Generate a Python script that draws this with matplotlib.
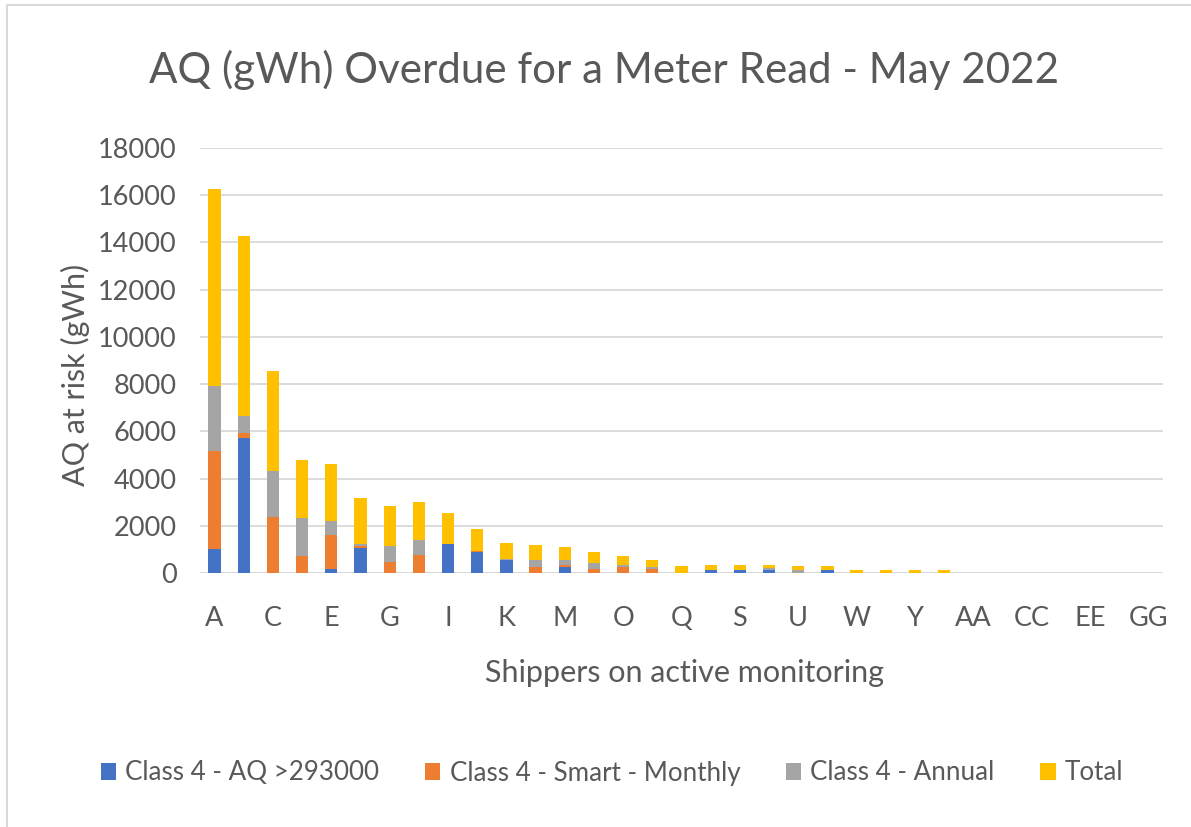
import matplotlib
matplotlib.use("Agg")
import matplotlib.pyplot as plt
from matplotlib.patches import Patch
from matplotlib.lines import Line2D
import numpy as np

plt.rcParams['font.family'] = ['Lato', 'DejaVu Sans']

categories = [chr(c) for c in range(ord('A'), ord('Z') + 1)] + ['AA', 'BB', 'CC', 'DD', 'EE', 'FF', 'GG']

aq_large = [1010, 5720, 0, 0, 170, 1080, 0, 0, 1240, 870, 540, 0, 250, 0, 0, 0, 0,
            140, 140, 130, 0, 140, 0, 0, 0, 0, 0, 0, 0, 0, 0, 0, 0]
smart_monthly = [4150, 210, 2390, 700, 1450, 70, 450, 760, 0, 70, 0, 250, 85, 180, 250, 180, 0,
                 0, 0, 0, 0, 0, 0, 0, 0, 0, 0, 0, 0, 0, 0, 0, 0]
annual = [2780, 700, 1930, 1620, 600, 85, 700, 630, 0, 0, 70, 310, 225, 240, 70, 90, 0,
          0, 0, 70, 140, 0, 0, 0, 0, 0, 0, 0, 0, 0, 0, 0, 0]
total = [8340, 7630, 4250, 2450, 2400, 1930, 1700, 1600, 1300, 920, 680, 620, 550, 465, 395, 295, 280,
         210, 210, 150, 140, 140, 140, 140, 140, 140, 0, 0, 0, 0, 0, 0, 0]

series_names = ['Class 4 - AQ >293000', 'Class 4 - Smart - Monthly', 'Class 4 - Annual', 'Total']
colors = ['#4472C4', '#ED7D31', '#A5A5A5', '#FFC000']
yticks = [0, 2000, 4000, 6000, 8000, 10000, 12000, 14000, 16000, 18000]

TXT = '#595959'
W, H = 1191, 827
fig = plt.figure(figsize=(W / 100, H / 100), dpi=100)
ax = fig.add_axes([200 / W, 1 - 573 / H, (1163 - 200) / W, (573 - 148) / H])

x = np.arange(len(categories))
bottom = np.zeros(len(categories))
for vals, col in zip([aq_large, smart_monthly, annual, total], colors):
    v = np.array(vals, dtype=float)
    ax.bar(x, v, width=0.42, bottom=bottom, color=col, zorder=3)
    bottom += v

ax.set_xlim(-0.5, len(categories) - 0.5)
ax.set_ylim(0, 18000)
ax.set_yticks(yticks)
ax.set_yticklabels([str(t) for t in yticks])
ax.set_xticks(x[::2])
ax.set_xticklabels(categories[::2])
ax.tick_params(axis='both', length=0, colors=TXT, labelsize=19.5)
ax.tick_params(axis='x', pad=24)
ax.tick_params(axis='y', pad=17)
for s in ax.spines.values():
    s.set_visible(False)
ax.grid(axis='y', color='#D9D9D9', linewidth=1.3, zorder=0)
ax.axhline(0, color='#D9D9D9', linewidth=1.5, zorder=2)

fig.text(604 / W, 1 - 70 / H, 'AQ (gWh) Overdue for a Meter Read - May 2022',
         ha='center', va='center', fontsize=30.3, color=TXT)
fig.text(75 / W, 1 - 375 / H, 'AQ at risk (gWh)', rotation=90,
         ha='center', va='center', fontsize=22, color=TXT)
fig.text(685 / W, 1 - 673 / H, 'Shippers on active monitoring',
         ha='center', va='center', fontsize=22, color=TXT)

handles = [Patch(facecolor=c, edgecolor='none') for c in colors]
leg = fig.legend(handles, series_names, loc='center', bbox_to_anchor=(612 / W, 1 - 773 / H),
                 ncol=4, frameon=False, fontsize=18.7, handlelength=0.6, handleheight=0.6,
                 handletextpad=0.35, columnspacing=1.75, labelcolor=TXT)

fig.add_artist(Line2D([7 / W, 7 / W], [0, 1 - 5 / H], transform=fig.transFigure,
                      color='#D9D9D9', linewidth=1.5))
fig.add_artist(Line2D([7 / W, 1], [1 - 5 / H, 1 - 5 / H], transform=fig.transFigure,
                      color='#D9D9D9', linewidth=1.5))

fig.savefig('out.png', dpi=100)
